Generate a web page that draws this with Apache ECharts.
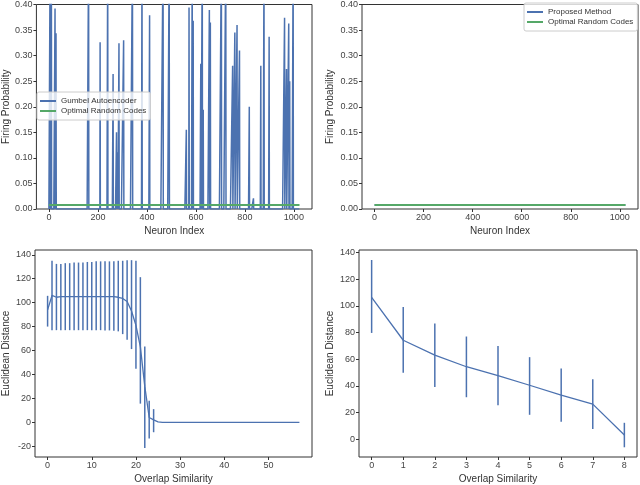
<!DOCTYPE html>
<html lang="en">
<head>
    <meta charset="UTF-8">
    <script src="https://cdn.jsdelivr.net/npm/echarts@6/dist/echarts.min.js"></script>
    <title>Firing probability / overlap</title>
    <style type="text/css">
        html, body { margin: 0; padding: 0; background: #fff; }
        #chart { width: 640px; height: 485px; }
    </style>
</head>
<body>
<div id="chart"></div>
<script type="text/javascript">
    // top left: gumbel autoencoder spikes (index, firing prob); everything else sits at 0
    const neuronCount = 1024;
    const gumbelIdx = [5, 10, 25, 29, 162, 209, 240, 262, 276, 281, 286, 305, 341, 380, 411, 466, 491,
        561, 572, 585, 589, 620, 626, 630, 655, 659, 704, 722, 750, 759, 768, 778, 818, 835, 865, 878,
        899, 962, 970, 979, 983, 997];
    const gumbelVal = [0.5, 0.5, 0.392, 0.344, 0.5, 0.326, 0.5, 0.264, 0.15, 0.111, 0.324, 0.33, 0.5, 0.5, 0.379, 0.5, 0.5,
        0.155, 0.394, 0.5, 0.368, 0.284, 0.5, 0.194, 0.389, 0.365, 0.5, 0.5, 0.28, 0.345, 0.36, 0.31, 0.2, 0.021, 0.28, 0.5,
        0.337, 0.374, 0.274, 0.363, 0.25, 0.5];

    // optimal random codes, flat
    const orcX = [0, 1023];
    const orcY = [0.0078, 0.0078];

    // top right: proposed method
    const propX = [0, 150, 300, 450, 580, 586, 592, 700, 850, 1023];
    const propY = [0.0079, 0.0080, 0.0078, 0.0080, 0.0080, 0.0110, 0.0080, 0.0079, 0.0081, 0.0079];

    // bottom left: mean + error bars vs overlap similarity
    const blX = [];
    for (let i = 0; i <= 57; i++) blX.push(i);
    const blMean = [94, 106, 104.5, 105, 105, 105, 105, 105, 105, 105, 105, 105, 105, 105, 105, 105, 104.5, 103.5, 101, 93,
        81, 63, 30, 4, 2, 0.3, 0, 0, 0, 0, 0, 0, 0, 0, 0, 0, 0, 0, 0, 0, 0, 0, 0, 0, 0, 0, 0, 0, 0, 0, 0, 0, 0, 0, 0, 0, 0, 0];
    const blErrX = [0, 1, 2, 3, 4, 5, 6, 7, 8, 9, 10, 11, 12, 13, 14, 15, 16, 17, 18, 19, 20, 21, 22, 23, 24];
    const blLow = [80, 77, 77, 77, 77, 77, 77, 77, 77, 77, 77, 77, 77, 76.8, 76.8, 76.5, 76, 73.7, 69, 61.2, 44.8, 15.6, -21.4, -13.6, -8.3];
    const blHigh = [105.7, 135, 132.4, 132.4, 133, 133, 133.5, 133.5, 133.5, 134, 134, 134.5, 134.5, 134.5, 134.5, 134.5, 135, 135, 135.5, 135.5, 135, 121.3, 63.4, 18, 11];

    // bottom right
    const brX = [0, 1, 2, 3, 4, 5, 6, 7, 8];
    const brMean = [106.4, 74.2, 63, 54.3, 47.6, 40.4, 32.9, 26.2, 3];
    const brLow = [79.7, 49.8, 39.1, 31.4, 25.4, 18.2, 13, 7.5, -6.2];
    const brHigh = [134.5, 99.2, 86.7, 77, 69.8, 61.5, 53, 45, 12.2];

    // tick labels
    const probTicks = [0, 0.05, 0.1, 0.15, 0.2, 0.25, 0.3, 0.35, 0.4];
    const neuronTicks = [0, 200, 400, 600, 800, 1000];
    const blXTicks = [0, 10, 20, 30, 40, 50];
    const blYTicks = [-20, 0, 20, 40, 60, 80, 100, 120, 140];
    const brYTicks = [0, 20, 40, 60, 80, 100, 120, 140];

    const blue = '#4c72b0';
    const green = '#55a868';
    const font = 'Liberation Sans';

    function xyPairs(xs, ys) {
        return xs.map((x, i) => [x, ys[i]]);
    }

    const gumbelData = [];
    for (let i = 0; i < neuronCount; i++) {
        const k = gumbelIdx.indexOf(i);
        gumbelData.push([i, k >= 0 ? gumbelVal[k] : 0]);
    }

    const axisStyle = {
        axisLine: { show: false, onZero: false },
        axisTick: { show: true, length: 3, lineStyle: { color: '#333', width: 1 } },
        axisLabel: { color: '#444', fontSize: 9, fontFamily: font, margin: 4 },
        splitLine: { show: false },
        nameTextStyle: { color: '#333', fontSize: 10, fontFamily: font },
        nameLocation: 'middle'
    };

    const plain = v => String(v);

    function xAxis(idx, min, max, ticks, name) {
        return Object.assign({}, axisStyle, {
            type: 'value', gridIndex: idx, min: min, max: max, name: name, nameGap: 17,
            axisTick: Object.assign({}, axisStyle.axisTick, { customValues: ticks }),
            axisLabel: Object.assign({}, axisStyle.axisLabel, { customValues: ticks, formatter: plain })
        });
    }

    function yAxis(idx, min, max, ticks, name, gap, fmt) {
        return Object.assign({}, axisStyle, {
            type: 'value', gridIndex: idx, min: min, max: max, name: name, nameGap: gap,
            axisTick: Object.assign({}, axisStyle.axisTick, { customValues: ticks }),
            axisLabel: Object.assign({}, axisStyle.axisLabel, { customValues: ticks, formatter: fmt || plain })
        });
    }

    function errRender(params, api) {
        const p1 = api.coord([api.value(0), api.value(1)]);
        const p2 = api.coord([api.value(0), api.value(2)]);
        return {
            type: 'line',
            shape: { x1: p1[0], y1: p1[1], x2: p2[0], y2: p2[1] },
            style: { stroke: blue, lineWidth: 1.5 }
        };
    }

    const legendBase = {
        orient: 'vertical', icon: 'rect', itemWidth: 16, itemHeight: 2, itemGap: 0,
        backgroundColor: 'rgba(255,255,255,0.8)', borderColor: '#ccc', borderWidth: 1, borderRadius: 2,
        padding: [4, 4, 4, 3], z: 10,
        textStyle: { color: '#333', fontSize: 8, fontFamily: font, lineHeight: 10 }
    };

    const fmtProb = v => v.toFixed(2);
    const gridBase = { show: true, borderColor: '#333', borderWidth: 1, backgroundColor: 'transparent' };

    const myChart = echarts.init(document.getElementById('chart'), null, { renderer: 'canvas' });
    const option = {
        animation: false,
        backgroundColor: '#fff',
        textStyle: { fontFamily: font },
        grid: [
            Object.assign({ left: 33, top: 3, width: 279, height: 206 }, gridBase),
            Object.assign({ left: 362, top: 3, width: 276, height: 206 }, gridBase),
            Object.assign({ left: 32, top: 250, width: 280, height: 208 }, gridBase),
            Object.assign({ left: 359, top: 250, width: 278, height: 208 }, gridBase)
        ],
        legend: [
            Object.assign({ left: 37, top: 92, data: ['Gumbel Autoencoder', 'Optimal Random Codes'] }, legendBase),
            Object.assign({ left: 524, top: 3, data: ['Proposed Method', 'Optimal Random Codes'] }, legendBase)
        ],
        xAxis: [
            xAxis(0, -51, 1074, neuronTicks, 'Neuron Index'),
            xAxis(1, -51, 1074, neuronTicks, 'Neuron Index'),
            xAxis(2, -2.85, 59.85, blXTicks, 'Overlap Similarity'),
            xAxis(3, -0.4, 8.4, brX, 'Overlap Similarity')
        ],
        yAxis: [
            yAxis(0, 0, 0.4, probTicks, 'Firing Probability', 25, fmtProb),
            yAxis(1, 0, 0.4, probTicks, 'Firing Probability', 27, fmtProb),
            yAxis(2, -29, 144, blYTicks, 'Euclidean Distance', 24),
            yAxis(3, -13.5, 142, brYTicks, 'Euclidean Distance', 24)
        ],
        series: [
            {
                name: 'Gumbel Autoencoder', type: 'line', xAxisIndex: 0, yAxisIndex: 0,
                data: gumbelData, symbol: 'none', clip: true,
                lineStyle: { color: blue, width: 1.5 }, itemStyle: { color: blue }
            },
            {
                name: 'Optimal Random Codes', type: 'line', xAxisIndex: 0, yAxisIndex: 0,
                data: xyPairs(orcX, orcY), symbol: 'none',
                lineStyle: { color: green, width: 2 }, itemStyle: { color: green }
            },
            {
                name: 'Proposed Method', type: 'line', xAxisIndex: 1, yAxisIndex: 1,
                data: xyPairs(propX, propY), symbol: 'none',
                lineStyle: { color: blue, width: 1.5 }, itemStyle: { color: blue }
            },
            {
                name: 'Optimal Random Codes', type: 'line', xAxisIndex: 1, yAxisIndex: 1,
                data: xyPairs(orcX, orcY), symbol: 'none',
                lineStyle: { color: green, width: 2 }, itemStyle: { color: green }
            },
            {
                type: 'line', xAxisIndex: 2, yAxisIndex: 2,
                data: xyPairs(blX, blMean), symbol: 'none',
                lineStyle: { color: blue, width: 1.3 }
            },
            {
                type: 'custom', xAxisIndex: 2, yAxisIndex: 2,
                data: blErrX.map((x, i) => [x, blLow[i], blHigh[i]]),
                encode: { x: 0, y: [1, 2] },
                renderItem: errRender
            },
            {
                type: 'line', xAxisIndex: 3, yAxisIndex: 3,
                data: xyPairs(brX, brMean), symbol: 'none',
                lineStyle: { color: blue, width: 1.3 }
            },
            {
                type: 'custom', xAxisIndex: 3, yAxisIndex: 3,
                data: brX.map((x, i) => [x, brLow[i], brHigh[i]]),
                encode: { x: 0, y: [1, 2] },
                renderItem: errRender
            }
        ]
    };

    myChart.setOption(option);
</script>
</body>
</html>
